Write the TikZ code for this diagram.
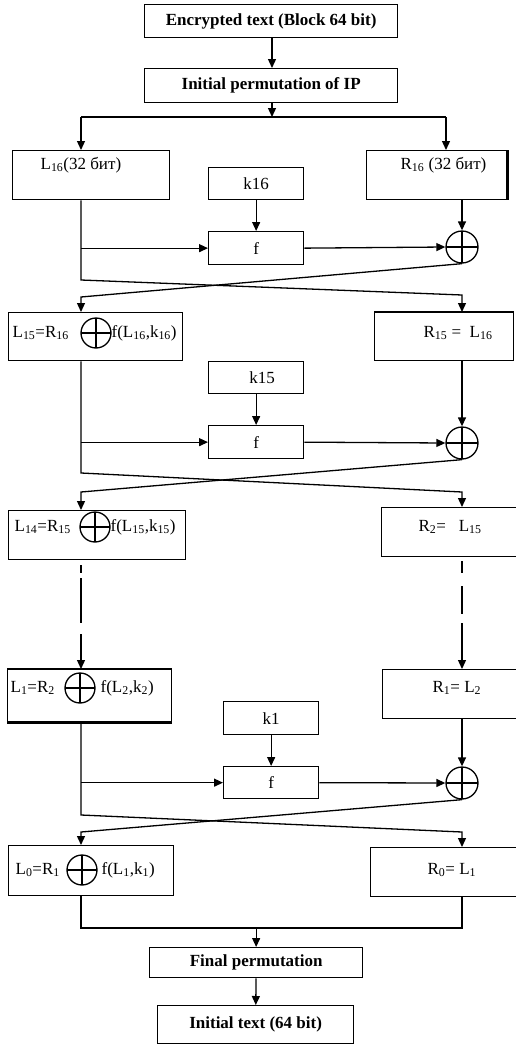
\documentclass[tikz,border=0pt]{standalone}
\usepackage{fontspec}
\setmainfont{Liberation Serif}
\usetikzlibrary{arrows.meta}
\begin{document}
\begin{tikzpicture}[x=1pt,y=-1pt,line width=1.3pt,
  box/.style={draw, line width=1.3pt, inner sep=0pt, anchor=north west},
  hdr/.style={box, font=\fontsize{17}{20}\selectfont\bfseries},
  kbox/.style={box, font=\fontsize{17}{20}\selectfont},
  lbl/.style={inner sep=0pt, anchor=west, font=\fontsize{17}{20}\selectfont},
  xorc/.style={draw, circle, line width=1.3pt, minimum size=#1, inner sep=0pt,
    path picture={\draw[line width=1.3pt] (path picture bounding box.north) -- (path picture bounding box.south)
      (path picture bounding box.west) -- (path picture bounding box.east);}},
  xorc/.default=32pt,
  arr/.style={-{Triangle[length=9pt,width=8pt]}},
  thickedge/.style={line width=2.6pt},
]
\useasboundingbox (0,0) rectangle (516,1044);
\coordinate (cL) at (81,0);
\coordinate (cR) at (462,0);

% header
\node[hdr, minimum width=253pt, minimum height=33pt] (enc) at (144,4) {Encrypted text (Block 64 bit)};
\node[hdr, minimum width=253pt, minimum height=34pt] (ip) at (144,68) {Initial permutation of IP};
\coordinate (jM) at (272,117);
\coordinate (jL) at (81,117);
\coordinate (jR) at (446,117);

% round 16
\node[box, minimum width=157pt, minimum height=49pt] (L16) at (12,150) {};
\node[box, minimum width=140pt, minimum height=49pt] (R16) at (366,150) {};
\draw[thickedge] (R16.north east) -- (R16.south east);
\node[lbl] (tL16) at (40,165) {L\textsubscript{16}(32 бит)};
\node[lbl] (tR16) at (400,165) {R\textsubscript{16} (32 бит)};
\node[kbox, minimum width=95pt, minimum height=32pt] (k16) at (208,167) {k16};
\node[kbox, minimum width=95pt, minimum height=33pt] (f1) at (208,231) {f};
\node[xorc] (x1) at (462,247) {};

% round 15
\node[box, minimum width=174pt, minimum height=48pt] (L15) at (8,312) {};
\node[box, minimum width=139pt, minimum height=48pt] (R15) at (374,312) {};
\draw[thickedge] (R15.north west) -- (R15.north east);
\node[lbl] (tL15a) at (12,333) {L\textsubscript{15}=R\textsubscript{16}};
\node[xorc=30pt] (xL15) at (96,333) {};
\node[lbl] (tL15b) at (111,333) {f(L\textsubscript{16},k\textsubscript{16})};
\node[lbl] (tR15) at (423,333) {R\textsubscript{15} =\ \ L\textsubscript{16}};
\node[kbox, minimum width=95pt, minimum height=32pt] (k15) at (208,361) {\hspace*{12pt}k15};
\node[kbox, minimum width=95pt, minimum height=33pt] (f2) at (208,425) {f};
\node[xorc] (x2) at (462,443) {};

% round 14 / 2
\node[box, minimum width=177pt, minimum height=49pt] (L14) at (8,510) {};
\node[box, minimum width=136pt, minimum height=49pt] (R2) at (381,507) {};
\node[lbl] (tL14a) at (14,527) {L\textsubscript{14}=R\textsubscript{15}};
\node[xorc=30pt] (xL14) at (95,527) {};
\node[lbl] (tL14b) at (110,527) {f(L\textsubscript{15},k\textsubscript{15})};
\node[lbl] (tR2) at (418,527) {R\textsubscript{2}=\ \ \ L\textsubscript{15}};

% round 1
\node[box, minimum width=164pt, minimum height=52pt] (L1) at (7,669) {};
\draw[thickedge] (L1.north west) -- (L1.north east) (L1.south west) -- (L1.south east);
\node[box, minimum width=135pt, minimum height=49pt] (R1) at (382,669) {};
\node[lbl] (tL1a) at (10,688) {L\textsubscript{1}=R\textsubscript{2}};
\node[xorc=30pt] (xL1) at (80,688) {};
\node[lbl] (tL1b) at (100,688) {f(L\textsubscript{2},k\textsubscript{2})};
\node[lbl] (tR1) at (432,688) {R\textsubscript{1}= L\textsubscript{2}};
\node[kbox, minimum width=95pt, minimum height=33pt] (k1) at (223,701) {k1};
\node[kbox, minimum width=95pt, minimum height=32pt] (f3) at (223,766) {f};
\node[xorc] (x3) at (462,783) {};

% round 0
\node[box, minimum width=165pt, minimum height=50pt] (L0) at (8,845) {};
\node[box, minimum width=147pt, minimum height=49pt] (R0) at (370,847) {};
\node[lbl] (tL0a) at (15,870) {L\textsubscript{0}=R\textsubscript{1}};
\node[xorc=30pt] (xL0) at (82,870) {};
\node[lbl] (tL0b) at (101,870) {f(L\textsubscript{1},k\textsubscript{1})};
\node[lbl] (tR0) at (427,870) {R\textsubscript{0}= L\textsubscript{1}};

% final
\node[hdr, minimum width=213pt, minimum height=30pt] (fp) at (149,947) {Final permutation};
\node[hdr, minimum width=196pt, minimum height=38pt] (it) at (157,1005) {Initial text (64 bit)};

% crossing coordinates
\coordinate (a1) at (81,280); \coordinate (b1) at (462,295); \coordinate (c1) at (81,297);
\coordinate (a2) at (81,473); \coordinate (b2) at (462,492); \coordinate (c2) at (81,492);
\coordinate (a3) at (81,815); \coordinate (b3) at (462,832); \coordinate (c3) at (81,832);
\coordinate (m1) at (81,928); \coordinate (m2) at (462,928);

% connectors: top
\draw[arr] (enc.south -| jM) -- (ip.north -| jM);
\draw[arr] (ip.south -| jM) -- (jM);
\draw (jL) -- (jR);
\draw[arr] (jL) -- (L16.north -| jL);
\draw[arr] (jR) -- (R16.north -| jR);

% round 16
\draw[arr] (k16) -- (f1);
\draw[arr] (cL |- f1) -- (f1.west);
\draw[arr] (f1.east) -- (x1.west);
\draw[arr] (R16.south -| cR) -- (x1.north);
\draw[arr] (L16.south -| cL) -- (a1) -- (b1) -- (R15.north -| cR);
\draw[arr] (x1.south) -- (c1) -- (L15.north -| cL);

% round 15
\draw[arr] (k15) -- (f2);
\draw[arr] (cL |- f2) -- (f2.west);
\draw[arr] (f2.east) -- (x2.west);
\draw[arr] (R15.south -| cR) -- (x2.north);
\draw[arr] (L15.south -| cL) -- (a2) -- (b2) -- (R2.north -| cR);
\draw[arr] (x2.south) -- (c2) -- (L14.north -| cL);

% dashed continuation
\draw[arr, dash pattern=on 0pt off 5pt on 8pt off 5pt on 45pt off 11pt on 80pt] (L14.south -| cL) -- (L1.north -| cL);
\draw[arr, dash pattern=on 0pt off 4pt on 12pt off 13pt on 28pt off 9pt on 80pt] (R2.south -| cR) -- (R1.north -| cR);

% round 1
\draw[arr] (k1) -- (f3);
\draw[arr] (cL |- f3) -- (f3.west);
\draw[arr] (f3.east) -- (x3.west);
\draw[arr] (R1.south -| cR) -- (x3.north);
\draw[arr] (L1.south -| cL) -- (a3) -- (b3) -- (R0.north -| cR);
\draw[arr] (x3.south) -- (c3) -- (L0.north -| cL);

% final
\draw (L0.south -| cL) -- (m1) -- (m2) -- (R0.south -| cR);
\draw[arr] (fp.north |- m1) -- (fp.north);
\draw[arr] (fp) -- (it);
\end{tikzpicture}
\end{document}
